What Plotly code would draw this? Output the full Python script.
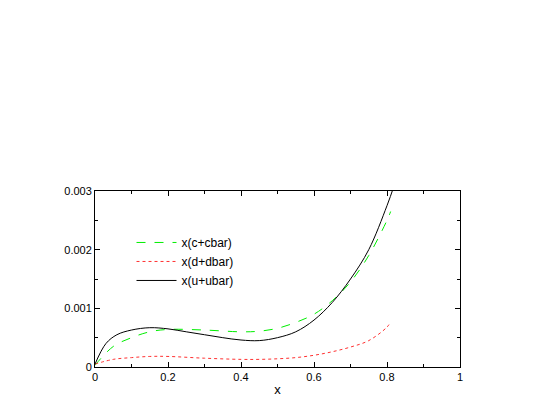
import plotly.graph_objects as go

x_u = [0, 0.03, 0.06, 0.1, 0.15, 0.2, 0.25, 0.3, 0.35, 0.4, 0.45, 0.5, 0.55, 0.6, 0.65, 0.7, 0.75, 0.8, 0.82]
u = [0.00005, 0.0004, 0.00055, 0.00063, 0.00067, 0.00065, 0.0006, 0.00055, 0.0005, 0.00046, 0.00045, 0.0005, 0.0006, 0.0008, 0.0011, 0.0015, 0.002, 0.00275, 0.0031]
x_c = [0, 0.05, 0.1, 0.15, 0.2, 0.3, 0.4, 0.45, 0.5, 0.55, 0.6, 0.65, 0.7, 0.75, 0.8, 0.81]
c = [0.00003, 0.00035, 0.0005, 0.0006, 0.00064, 0.00063, 0.0006, 0.00061, 0.00066, 0.00076, 0.0009, 0.00113, 0.00145, 0.0019, 0.0025, 0.00265]
x_d = [0, 0.05, 0.1, 0.15, 0.2, 0.3, 0.4, 0.45, 0.5, 0.55, 0.6, 0.65, 0.7, 0.75, 0.8, 0.81]
d = [0.00005, 0.00013, 0.00016, 0.00018, 0.00018, 0.00015, 0.00013, 0.00013, 0.00014, 0.00016, 0.0002, 0.00026, 0.00034, 0.00045, 0.00068, 0.00077]

fig = go.Figure()
fig.add_trace(go.Scatter(x=x_c, y=c, mode="lines", name="x(c+cbar)", line=dict(color="#00ee00", dash="dash", width=1, shape="spline")))
fig.add_trace(go.Scatter(x=x_d, y=d, mode="lines", name="x(d+dbar)", line=dict(color="#ff3030", dash="dot", width=1, shape="spline")))
fig.add_trace(go.Scatter(x=x_u, y=u, mode="lines", name="x(u+ubar)", line=dict(color="black", width=1, shape="spline")))

ax = dict(showgrid=False, zeroline=False, showline=True, linecolor="black", linewidth=1, mirror="ticks", ticks="inside", ticklen=5, tickcolor="black")
fig.update_layout(
    width=554, height=415, plot_bgcolor="white", paper_bgcolor="white",
    margin=dict(l=87, r=102, t=183, b=56),
    font=dict(family="Liberation Sans, Arial", size=11, color="black"),
    xaxis=dict(ax, range=[0, 1], tickvals=[0, 0.2, 0.4, 0.6, 0.8, 1], ticktext=["0", "0.2", "0.4", "0.6", "0.8", "1"],
               minor=dict(dtick=0.1, ticks="inside", ticklen=3, tickcolor="black"),
               title=dict(text="x", standoff=2, font=dict(size=13))),
    yaxis=dict(ax, range=[0, 0.003], tickvals=[0, 0.001, 0.002, 0.003], ticktext=["0", "0.001", "0.002", "0.003"],
               minor=dict(dtick=0.0005, ticks="inside", ticklen=3, tickcolor="black")),
    legend=dict(x=0.1, y=0.79, xanchor="left", yanchor="top", bgcolor="rgba(0,0,0,0)", font=dict(size=12), tracegroupgap=0, itemwidth=40),
    showlegend=True,
)
fig.write_html("out.html")
